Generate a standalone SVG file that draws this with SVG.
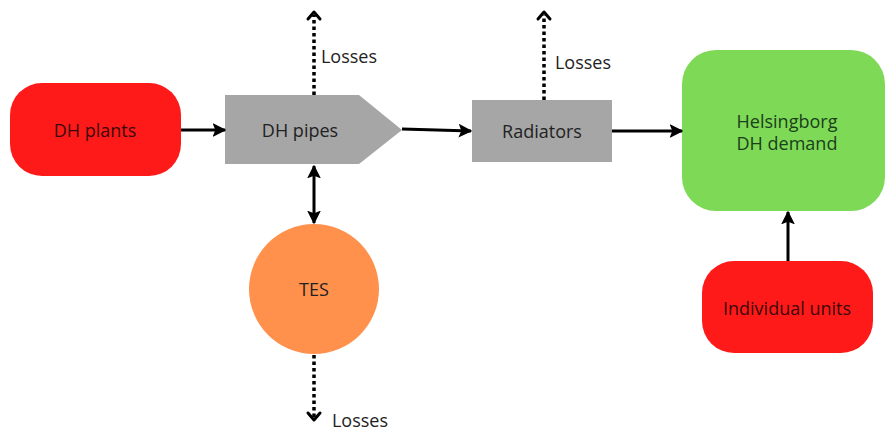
<svg xmlns="http://www.w3.org/2000/svg" width="885" height="433" viewBox="0 0 885 433">
<defs>
<style>
text{font-family:"Open Sans","Liberation Sans",sans-serif;font-size:18px;text-anchor:middle;dominant-baseline:central}
.red{fill:#ff1a1a}
.gray{fill:#a6a6a6}
.ln{stroke:#000;stroke-width:3;fill:none}
.dot{stroke:#000;stroke-width:3.5;fill:none;stroke-dasharray:3.5 3}
.chev{stroke:#000;stroke-width:3;fill:none;stroke-linecap:round;stroke-linejoin:round}
</style>
<marker id="ah" viewBox="0 0 10 10" refX="9" refY="5" markerWidth="4.6" markerHeight="4.6" orient="auto-start-reverse" markerUnits="strokeWidth">
<path d="M0,0 L10,5 L0,10 L2,5 z" fill="#000"/>
</marker>
</defs>
<rect width="885" height="433" fill="#fff"/>
<g id="dh-plants"><rect class="red" x="10" y="83" width="171" height="93" rx="32"/><text x="95" y="130" fill="#3a0808">DH plants</text></g>
<g id="dh-pipes"><path class="gray" d="M225,95 L359,95 L402,130 L359,164 L225,164 z"/><text x="300" y="130" fill="#222">DH pipes</text></g>
<g id="tes"><circle cx="314" cy="289" r="65" fill="#ff914d"/><text x="314" y="289" fill="#222">TES</text></g>
<g id="radiators"><rect class="gray" x="472" y="100" width="140" height="62"/><text x="542" y="131" fill="#222">Radiators</text></g>
<g id="demand"><rect x="682" y="50" width="203" height="161" rx="34" fill="#7ed957"/><text x="787" y="121" fill="#1b3f1b">Helsingborg</text><text x="787" y="143" fill="#1b3f1b">DH demand</text></g>
<g id="individual"><rect class="red" x="702" y="261" width="171" height="92" rx="32"/><text x="787" y="308" fill="#3a0808">Individual units</text></g>
<g id="connectors">
<line class="ln" x1="181" y1="130" x2="225" y2="130" marker-end="url(#ah)"/>
<line class="ln" x1="402" y1="129" x2="471" y2="131" marker-end="url(#ah)"/>
<line class="ln" x1="612" y1="131" x2="682" y2="131" marker-end="url(#ah)"/>
<line class="ln" x1="788" y1="261" x2="788" y2="212" marker-end="url(#ah)"/>
<line class="ln" x1="314" y1="166" x2="314" y2="223" marker-start="url(#ah)" marker-end="url(#ah)"/>
<line class="dot" x1="314" y1="95" x2="314" y2="15"/>
<path class="chev" d="M308,19 L314,12 L320,19"/>
<line class="dot" x1="544" y1="100" x2="544" y2="15"/>
<path class="chev" d="M538,19 L544,12 L550,19"/>
<line class="dot" x1="314" y1="355" x2="314" y2="417"/>
<path class="chev" d="M308,413 L314,420 L320,413"/>
</g>
<g id="labels">
<text x="349" y="56" fill="#222">Losses</text>
<text x="583" y="62" fill="#222">Losses</text>
<text x="360" y="420" fill="#222">Losses</text>
</g>
</svg>
